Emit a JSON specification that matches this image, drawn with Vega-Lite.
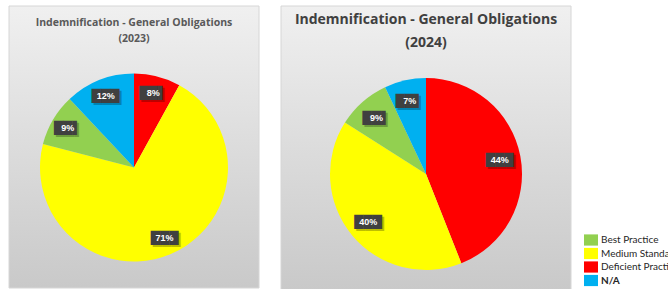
{
  "$schema": "https://vega.github.io/schema/vega-lite/v6.json",
  "padding": {"left": 8, "top": 5, "right": 0, "bottom": 0},
  "background": "white",
  "datasets": {
    "d2023": [
      {"category": "Deficient Practice", "share": 8, "label": "8%", "seq": 1},
      {"category": "Medium Standard", "share": 71, "label": "71%", "seq": 2},
      {"category": "Best Practice", "share": 9, "label": "9%", "seq": 3},
      {"category": "N/A", "share": 12, "label": "12%", "seq": 4}
    ],
    "d2024": [
      {"category": "Deficient Practice", "share": 44, "label": "44%", "seq": 1},
      {"category": "Medium Standard", "share": 40, "label": "40%", "seq": 2},
      {"category": "Best Practice", "share": 9, "label": "9%", "seq": 3},
      {"category": "N/A", "share": 7, "label": "7%", "seq": 4}
    ]
  },
  "spacing": 20,
  "resolve": {"scale": {"color": "shared", "theta": "independent"}},
  "hconcat": [
    {
      "width": 250,
      "height": 282,
      "title": {
        "text": ["Indemnification - General Obligations", "(2023)"],
        "font": "Open Sans", "fontSize": 10.5, "fontWeight": "bold", "color": "#595959",
        "lineHeight": 16, "baseline": "top", "offset": -39, "anchor": "middle", "frame": "group"
      },
      "data": {"name": "d2023"},
      "layer": [
        {
          "data": {"values": [{}]},
          "mark": {"type": "rect", "fill": {"gradient": "linear", "x1": 0, "y1": 0, "x2": 0, "y2": 1,
            "stops": [{"offset": 0, "color": "#f0f0f0"}, {"offset": 0.5, "color": "#dcdcdc"}, {"offset": 1, "color": "#c9c9c9"}]},
            "stroke": "#d6d6d6", "strokeWidth": 1},
          "encoding": {}
        },
        {
          "mark": {"type": "arc", "radius": 94, "yOffset": 20.5},
          "encoding": {
            "theta": {"field": "share", "type": "quantitative", "stack": true},
            "order": {"field": "seq", "type": "quantitative"},
            "color": {
              "field": "category", "type": "nominal",
              "scale": {"domain": ["Best Practice", "Medium Standard", "Deficient Practice", "N/A"],
                        "range": ["#92D050", "#FFFF00", "#FF0000", "#00B0F0"]},
              "legend": {
                "title": null, "orient": "none", "legendX": 575, "legendY": 227,
                "symbolType": "M-1,-0.8H1V0.8H-1Z", "symbolSize": 196, "symbolStrokeWidth": 0, "symbolOpacity": 1,
                "labelFont": "Lato", "labelFontSize": 10, "labelColor": "#262626", "labelOffset": 3,
                "rowPadding": 0.5,
                "labelLimit": 200,
                "encode": {"labels": {"update": {"fontWeight": {"signal": "datum.value === 'N/A' ? 'bold' : 'normal'"}}}}
              }
            }
          }
        },
        {
          "mark": {"type": "text", "radius": 77, "yOffset": 20.5, "dx": 2, "dy": 2, "font": "DejaVu Sans", "fontSize": 12, "color": "#000000", "opacity": 0.25, "baseline": "middle"},
          "encoding": {
            "theta": {"field": "share", "type": "quantitative", "stack": true},
            "order": {"field": "seq", "type": "quantitative"},
            "text": {"condition": {"test": "length(datum.label) > 2", "value": "███"}, "value": "██▌"}
          }
        },
        {
          "mark": {"type": "text", "radius": 77, "yOffset": 20.5, "font": "DejaVu Sans", "fontSize": 12, "color": "#404040", "baseline": "middle"},
          "encoding": {
            "theta": {"field": "share", "type": "quantitative", "stack": true},
            "order": {"field": "seq", "type": "quantitative"},
            "text": {"condition": {"test": "length(datum.label) > 2", "value": "███"}, "value": "██▌"}
          }
        },
        {
          "mark": {"type": "text", "radius": 77, "yOffset": 20.5, "font": "Liberation Sans", "fontSize": 9, "fontWeight": "bold", "color": "#ffffff", "baseline": "middle"},
          "encoding": {
            "theta": {"field": "share", "type": "quantitative", "stack": true},
            "order": {"field": "seq", "type": "quantitative"},
            "text": {"field": "label"}
          }
        }
      ]
    },
    {
      "width": 290,
      "height": 284,
      "title": {
        "text": ["Indemnification - General Obligations", "(2024)"],
        "font": "Open Sans", "fontSize": 14, "fontWeight": "bold", "color": "#404040",
        "lineHeight": 23, "baseline": "top", "offset": -44, "anchor": "middle", "frame": "group"
      },
      "data": {"name": "d2024"},
      "layer": [
        {
          "data": {"values": [{}]},
          "mark": {"type": "rect", "fill": {"gradient": "linear", "x1": 0, "y1": 0, "x2": 0, "y2": 1,
            "stops": [{"offset": 0, "color": "#f0f0f0"}, {"offset": 0.5, "color": "#dcdcdc"}, {"offset": 1, "color": "#c9c9c9"}]},
            "stroke": "#d6d6d6", "strokeWidth": 1},
          "encoding": {}
        },
        {
          "mark": {"type": "arc", "radius": 96, "yOffset": 26},
          "encoding": {
            "theta": {"field": "share", "type": "quantitative", "stack": true},
            "order": {"field": "seq", "type": "quantitative"},
            "color": {"field": "category", "type": "nominal"}
          }
        },
        {
          "mark": {"type": "text", "radius": 75, "yOffset": 26, "dx": 2, "dy": 2, "font": "DejaVu Sans", "fontSize": 12, "color": "#000000", "opacity": 0.25, "baseline": "middle"},
          "encoding": {
            "theta": {"field": "share", "type": "quantitative", "stack": true},
            "order": {"field": "seq", "type": "quantitative"},
            "text": {"condition": {"test": "length(datum.label) > 2", "value": "███"}, "value": "██▌"}
          }
        },
        {
          "mark": {"type": "text", "radius": 75, "yOffset": 26, "font": "DejaVu Sans", "fontSize": 12, "color": "#404040", "baseline": "middle"},
          "encoding": {
            "theta": {"field": "share", "type": "quantitative", "stack": true},
            "order": {"field": "seq", "type": "quantitative"},
            "text": {"condition": {"test": "length(datum.label) > 2", "value": "███"}, "value": "██▌"}
          }
        },
        {
          "mark": {"type": "text", "radius": 75, "yOffset": 26, "font": "Liberation Sans", "fontSize": 9, "fontWeight": "bold", "color": "#ffffff", "baseline": "middle"},
          "encoding": {
            "theta": {"field": "share", "type": "quantitative", "stack": true},
            "order": {"field": "seq", "type": "quantitative"},
            "text": {"field": "label"}
          }
        }
      ]
    }
  ],
  "config": {"view": {"stroke": null}}
}
